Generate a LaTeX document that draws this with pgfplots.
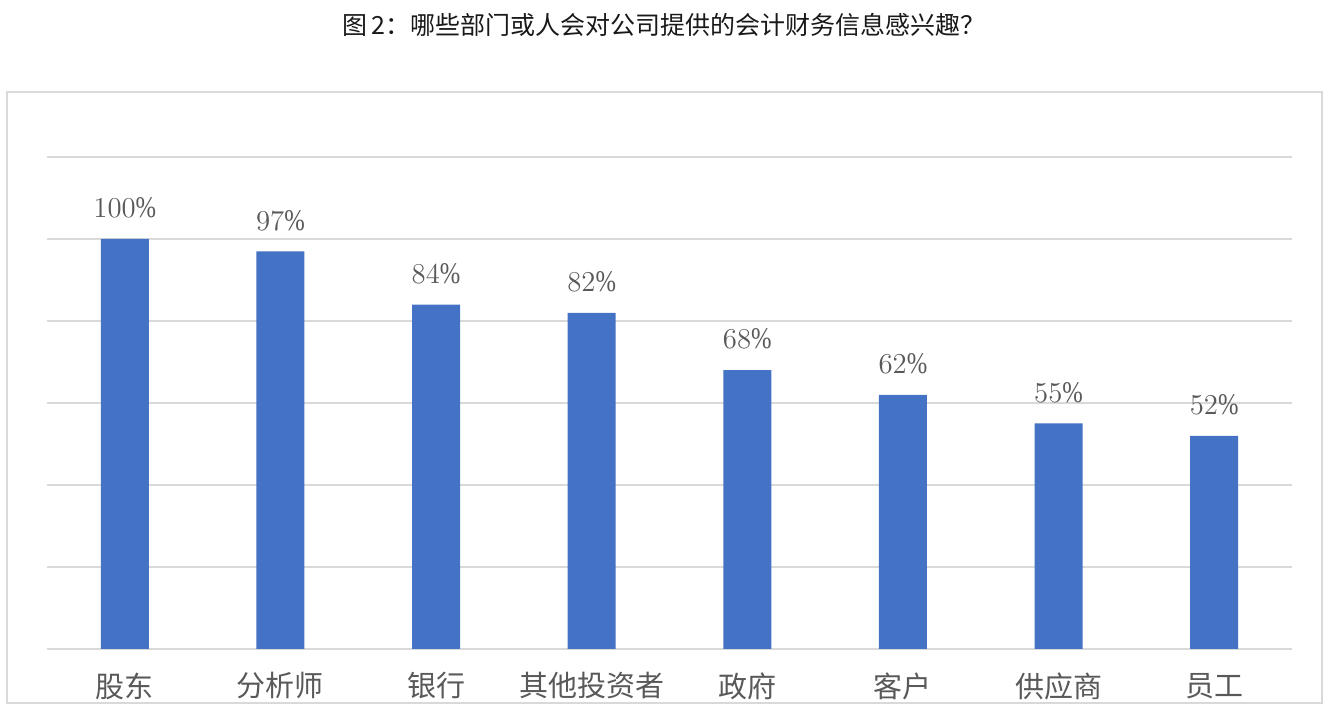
\documentclass[border=0pt]{standalone}
\usepackage{pgfplots}
\pgfplotsset{compat=1.18}
\usepackage{fontspec}
\setmainfont{Noto Sans CJK SC}
\newfontfamily\numfont[FakeStretch=0.82]{Liberation Serif}
\definecolor{barblue}{HTML}{4472C4}
\definecolor{gridgray}{HTML}{D9D9D9}
\definecolor{labgray}{HTML}{595959}
\definecolor{framegray}{HTML}{D9D9D9}
\begin{document}
\begin{tikzpicture}
\path[use as bounding box] (-23.5pt,-33.5pt) rectangle (642.5pt,324.5pt);
\begin{axis}[
  at={(0,0)}, anchor=south west,
  scale only axis,
  width=622.5pt, height=246pt,
  ybar, bar width=24pt,
  xmin=-0.5, xmax=7.5,
  ymin=0, ymax=120,
  ytick={0,20,...,120}, yticklabels={},
  ymajorgrids, grid style={gridgray, line width=0.9pt},
  major tick length=0pt,
  axis line style={draw=none},
  xtick=data,
  xticklabels={股东,分析师,银行,其他投资者,政府,客户,供应商,员工},
  x tick label style={anchor=center, yshift=-18.5pt, font=\fontsize{14.5pt}{16pt}\selectfont, text=labgray},
  nodes near coords={\pgfmathprintnumber{\pgfplotspointmeta}\%},
  nodes near coords style={anchor=center, yshift=15.5pt, font=\numfont\fontsize{15pt}{17pt}\selectfont, text=labgray},
  clip=false,
]
\addplot[fill=barblue, draw=none] coordinates {
  (0,100) (1,97) (2,84) (3,82) (4,68) (5,62) (6,55) (7,52)
};
\end{axis}
\draw[framegray, line width=0.8pt] (-20pt,-27pt) rectangle (637.5pt,278.5pt);
\node[font=\fontsize{12.5pt}{14pt}\selectfont, text=black!90] at (308.5pt,312pt) {图\,2：哪些部门或人会对公司提供的会计财务信息感兴趣？};
\end{tikzpicture}
\end{document}
